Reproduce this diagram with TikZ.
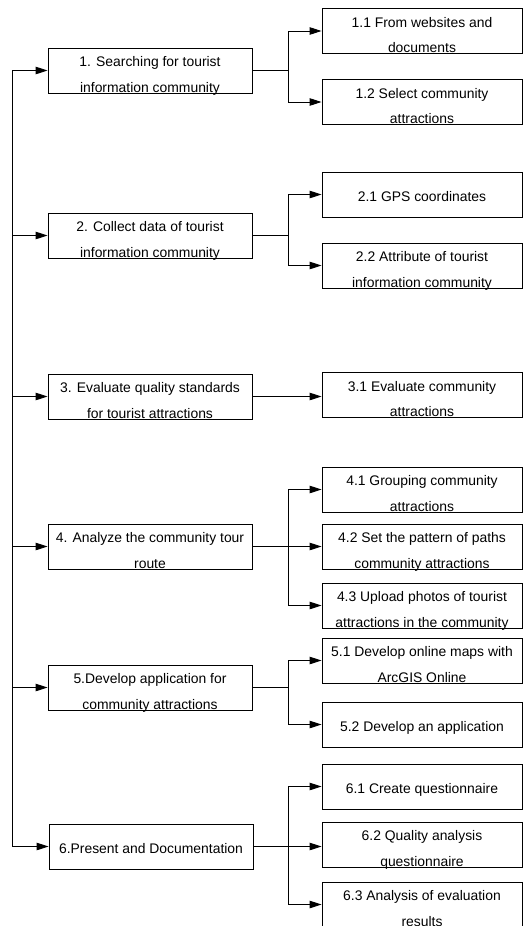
\documentclass[tikz,border=0pt]{standalone}
\usepackage{fontspec}
\setmainfont{Liberation Sans}
\usetikzlibrary{arrows.meta,positioning,calc}

\begin{document}
\begin{tikzpicture}[x=1pt,y=-1pt,
		stepbox/.style={draw,line width=0.9pt,align=center,inner sep=0pt,minimum width=204pt,minimum height=45pt,text height=43pt,text depth=0pt,font=\fontsize{13.9}{25.5}\selectfont},
		oneline/.style={text height=13pt},
		subbox/.style={stepbox,minimum width=200pt},
		arr/.style={line width=0.9pt,-{Triangle[length=12pt,width=7.5pt]}},
		ln/.style={line width=0.9pt}]
		\useasboundingbox (0,0) rectangle (532,926);
		\clip (0,0) rectangle (532,926);

		% main steps
		\node[stepbox] (m1) at (150,70.5) {1. Searching for tourist\\information community};
		\node[stepbox] (m2) at (150,235.5) {2. Collect data of tourist\\information community};
		\node[stepbox] (m3) at (150,396.5) {3. Evaluate quality standards\\for tourist attractions};
		\node[stepbox] (m4) at (150,546.5) {4. Analyze the community tour\\route};
		\node[stepbox] (m5) at (150,687.5) {5.Develop application for\\community attractions};
		\node[stepbox,oneline] (m6) at (151,846.5) {6.Present and Documentation};

		% sub steps
		\node[subbox] (s11) at (422,31) {1.1 From websites and\\documents};
		\node[subbox] (s12) at (422,102) {1.2 Select community\\attractions};
		\node[subbox,oneline] (s21) at (422,194.5) {2.1 GPS coordinates};
		\node[subbox] (s22) at (422,265.5) {2.2 Attribute of tourist\\information community};
		\node[subbox] (s31) at (422,395) {3.1 Evaluate community\\attractions};
		\node[subbox] (s41) at (422,489.5) {4.1 Grouping community\\attractions};
		\node[subbox] (s42) at (422,546.5) {4.2 Set the pattern of paths\\community attractions};
		\node[subbox] (s43) at (422,605.5) {4.3 Upload photos of tourist\\attractions in the community};
		\node[subbox] (s51) at (422,660.5) {5.1 Develop online maps with\\ArcGIS Online};
		\node[subbox,oneline] (s52) at (422,724.5) {5.2 Develop an application};
		\node[subbox,oneline] (s61) at (422,786.5) {6.1 Create questionnaire};
		\node[subbox] (s62) at (422,844.5) {6.2 Quality analysis\\questionnaire};
		\node[subbox] (s63) at (422,904.5) {6.3 Analysis of evaluation\\results};

		% left spine
		\coordinate (sp) at (12,0);
		\draw[ln] (m1.west -| sp) -- (m6.west -| sp);
		\draw[arr] (m1.west -| sp) -- (m1);
		\draw[arr] (m2.west -| sp) -- (m2);
		\draw[arr] (m3.west -| sp) -- (m3);
		\draw[arr] (m4.west -| sp) -- (m4);
		\draw[arr] (m5.west -| sp) -- (m5);
		\draw[arr] (m6.west -| sp) -- (m6);

		% branches
		\coordinate (bx) at (288,0);
		\draw[ln] (m1.east) -- (m1.east -| bx) coordinate (j1);
		\draw[arr] (j1) |- (s11);
		\draw[arr] (j1) |- (s12);
		\draw[ln] (m2.east) -- (m2.east -| bx) coordinate (j2);
		\draw[arr] (j2) |- (s21);
		\draw[arr] (j2) |- (s22);
		\draw[arr] (m3.east) -- (m3.east -| s31.west);
		\draw[arr] (m4.east) -- (s42);
		\coordinate (j4) at (m4.east -| bx);
		\draw[arr] (j4) |- (s41);
		\draw[arr] (j4) |- (s43);
		\draw[ln] (m5.east) -- (m5.east -| bx) coordinate (j5);
		\draw[arr] (j5) |- (s51);
		\draw[arr] (j5) |- (s52);
		\draw[arr] (m6.east) -- (m6.east -| s62.west);
		\coordinate (j6) at (m6.east -| bx);
		\draw[arr] (j6) |- (s61);
		\draw[arr] (j6) |- (s63);
	\end{tikzpicture}
\end{document}
